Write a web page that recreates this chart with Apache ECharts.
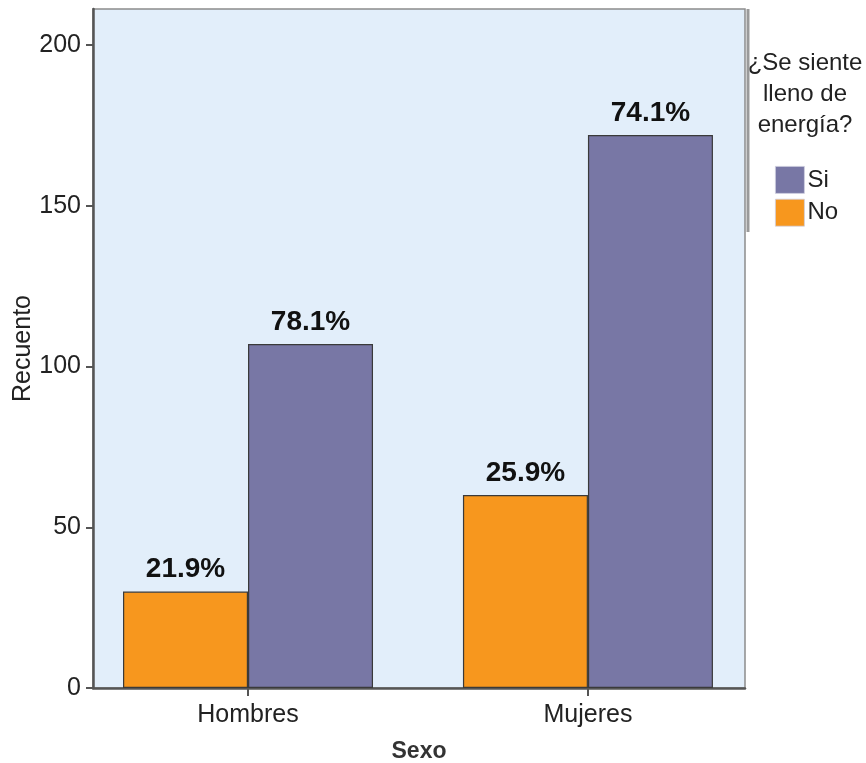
<!DOCTYPE html>
<html>
<head>
<meta charset="utf-8">
<script src="https://cdn.jsdelivr.net/npm/echarts@6/dist/echarts.min.js"></script>
<style>
html,body{margin:0;padding:0;background:#fff;}
#chart{width:866px;height:763px;}
</style>
</head>
<body>
<div id="chart"></div>
<script>
// Data
var categories = ['Hombres', 'Mujeres'];
var seriesNames = ['No', 'Si'];
var noValues = [30, 60];
var siValues = [107, 172];
var yTicks = [0, 50, 100, 150, 200];
var legendTitle = '¿Se siente\nlleno de\nenergía?';

var totals = categories.map(function (c, i) { return noValues[i] + siValues[i]; });
function pct(v, i) { return (v / totals[i] * 100).toFixed(1) + '%'; }

var FONT = '"Liberation Sans", Arial, sans-serif';
var chart = echarts.init(document.getElementById('chart'), null, {renderer: 'canvas'});

function makeSeries(name, values, color) {
  return {
    name: name,
    type: 'bar',
    barWidth: 125,
    barGap: '0%',
    data: values.map(function (v, i) { return [i, v]; }),
    itemStyle: { color: color, borderColor: '#3a3a3a', borderWidth: 1.2 },
    label: {
      show: true,
      position: 'top',
      distance: 8,
      fontFamily: FONT,
      fontSize: 28,
      fontWeight: 'bold',
      color: '#111',
      formatter: function (p) { return pct(p.value[1], p.dataIndex); }
    },
    emphasis: { disabled: true },
    animation: false
  };
}

chart.setOption({
  animation: false,
  backgroundColor: '#ffffff',
  title: {
    text: legendTitle,
    left: 805,
    top: 48,
    padding: 0,
    textAlign: 'center',
    textStyle: { fontFamily: FONT, fontSize: 24, fontWeight: 'normal', color: '#222', lineHeight: 31, align: 'center' }
  },
  legend: {
    orient: 'vertical',
    left: 775,
    top: 166,
    padding: 0,
    itemWidth: 29,
    itemHeight: 27,
    itemGap: 5,
    icon: 'rect',
    data: ['Si', 'No'],
    itemStyle: { borderWidth: 0.8, borderColor: '#cfcfe0' },
    textStyle: { fontFamily: FONT, fontSize: 24, color: '#222', padding: [0, 0, 0, -2] },
    selectedMode: false
  },
  grid: {
    left: 93,
    right: 121,
    top: 9,
    bottom: 75,
    outerBoundsMode: 'none',
    containLabel: false,
    show: true,
    backgroundColor: '#E2EEFA',
    borderColor: '#8c8c8c',
    borderWidth: 1.5
  },
  xAxis: {
    type: 'value',
    min: -0.456,
    max: 1.462,
    name: 'Sexo',
    nameLocation: 'middle',
    nameGap: 52,
    nameTextStyle: { fontFamily: FONT, fontSize: 23, fontWeight: 'bold', color: '#333' },
    axisLine: { show: true, onZero: false, lineStyle: { color: '#555', width: 2.5 } },
    axisTick: { show: true, length: 8, customValues: [0, 1], lineStyle: { color: '#555', width: 2 } },
    axisLabel: {
      customValues: [0, 1],
      fontFamily: FONT, fontSize: 25, color: '#222', margin: 15,
      formatter: function (v) { return categories[Math.round(v)] || ''; }
    },
    splitLine: { show: false }
  },
  yAxis: {
    type: 'value',
    min: 0,
    max: 211.2,
    name: 'Recuento',
    nameLocation: 'middle',
    nameGap: 57,
    nameMoveOverlap: false,
    nameTextStyle: { fontFamily: FONT, fontSize: 25, color: '#222' },
    axisLine: { show: true, onZero: false, lineStyle: { color: '#555', width: 2.5 } },
    axisTick: { show: true, length: 7, customValues: yTicks, lineStyle: { color: '#555', width: 2 } },
    axisLabel: {
      customValues: yTicks,
      fontFamily: FONT, fontSize: 25, color: '#222', margin: 12
    },
    splitLine: { show: false }
  },
  graphic: [{
    type: 'line',
    shape: { x1: 748, y1: 9, x2: 748, y2: 232 },
    style: { stroke: '#9a9a9a', lineWidth: 3 },
    z: 10
  }],
  series: [
    makeSeries('No', noValues, '#F7971E'),
    makeSeries('Si', siValues, '#7877A5')
  ]
});
</script>
</body>
</html>
